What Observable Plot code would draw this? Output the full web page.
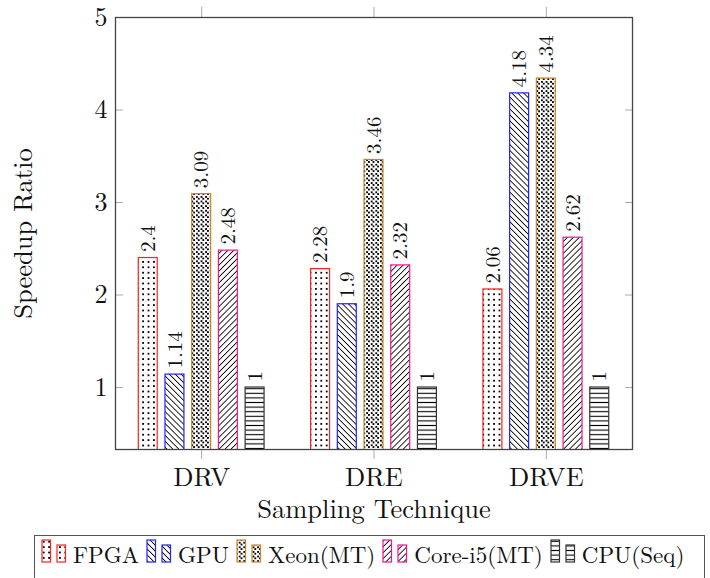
<!DOCTYPE html>
<html><head><meta charset="utf-8">
<script src="https://cdn.jsdelivr.net/npm/d3@7"></script>
<script src="https://cdn.jsdelivr.net/npm/@observablehq/plot@0.6"></script>
<style>
body{margin:0;background:#fff;color:#111;}
#wrap{position:relative;width:710px;height:578px;overflow:hidden;background:#fff;}
#chart{position:absolute;left:0;top:0;}
#legend{position:absolute;left:34px;top:535px;width:671px;height:48px;border:1.3px solid #555;box-sizing:border-box;display:flex;align-items:flex-start;padding-left:6px;font-size:23px;white-space:nowrap;}
#legend svg{margin-top:3px;flex:none;}
#legend span{display:block;line-height:25px;margin-top:5px;margin-left:6px;margin-right:7px;}
</style></head>
<body>
<div id="wrap"><div id="chart"></div><div id="legend"></div></div>
<script>
const groups = ["DRV", "DRE", "DRVE"];
const seriesNames = ["FPGA", "GPU", "Xeon(MT)", "Core-i5(MT)", "CPU(Seq)"];
const fpga   = [2.4, 2.28, 2.06];
const gpu    = [1.14, 1.9, 4.18];
const xeon   = [3.09, 3.46, 4.34];
const corei5 = [2.48, 2.32, 2.62];
const cpuSeq = [1, 1, 1];
const yTicks = [1, 2, 3, 4, 5];

const seriesValues = [fpga, gpu, xeon, corei5, cpuSeq];
const strokes = ["#ff2020", "#2020ff", "#c8842a", "#f0158c", "#333333"];
const FONT = "'Latin Modern Roman', 'Liberation Serif', serif";

const table = [];
seriesNames.forEach((s, si) => groups.forEach((g, gi) =>
  table.push({series: s, si, group: g, gi, value: seriesValues[si][gi]})));

const shift = 0.155, barW = 0.11;
const cx = d => d.gi + 1 + (d.si - 2) * shift;

const bars = seriesNames.map((s, si) => Plot.rectY(table.filter(d => d.si === si), {
  x1: d => cx(d) - barW / 2, x2: d => cx(d) + barW / 2, y: "value",
  fill: `url(#pat${si})`, stroke: strokes[si], strokeWidth: 1.2, clip: true
}));

const chart = Plot.plot({
  width: 710, height: 530,
  marginLeft: 115, marginRight: 78, marginTop: 17, marginBottom: 81,
  style: {background: "white", color: "#111", overflow: "visible"},
  x: {domain: [0.5, 3.5]},
  y: {domain: [0.33, 5]},
  marks: [
    ...bars,
    Plot.text(table, {x: cx, y: "value", text: d => String(d.value), rotate: -90, textAnchor: "start", dy: -6, fontSize: 21}),
    Plot.axisY(yTicks, {anchor: "left", tickSize: 0, tickPadding: 8, fontSize: 26, tickFormat: d => String(d), label: null}),
    Plot.axisY(yTicks, {anchor: "left", tickSize: -8, fill: "none", stroke: "#aaa", label: null}),
    Plot.axisY(yTicks, {anchor: "right", tickSize: -8, fill: "none", stroke: "#aaa", label: null}),
    Plot.axisX([1, 2, 3], {anchor: "bottom", tickSize: 10, tickPadding: 8, stroke: "#aaa", fill: "#111", tickFormat: i => groups[i - 1], fontSize: 26.5, label: null}),
    Plot.axisX([1, 2, 3], {anchor: "top", tickSize: 11, fill: "none", stroke: "#aaa", label: null}),
    Plot.frame({stroke: "#444", strokeWidth: 1.3}),
    Plot.text(["Sampling Technique"], {text: d => d, frameAnchor: "bottom", textAnchor: "middle", lineAnchor: "bottom", dy: 68, fontSize: 26.5}),
    Plot.text(["Speedup Ratio"], {text: d => d, frameAnchor: "left", textAnchor: "middle", lineAnchor: "bottom", rotate: -90, dx: -84, fontSize: 26.5})
  ]
});

chart.setAttribute("font-family", FONT);
chart.style.fontFamily = FONT;
chart.querySelectorAll("g, text").forEach(el => {
  if (el.hasAttribute("font-family")) el.setAttribute("font-family", FONT);
  el.style.fontFamily = FONT;
});

const defs = `<defs>
<pattern id="pat0" patternUnits="userSpaceOnUse" width="5.4" height="5.4"><rect x="1.7" y="1.7" width="2" height="2" fill="#000" shape-rendering="crispEdges"/></pattern>
<pattern id="pat1" patternUnits="userSpaceOnUse" width="4.2" height="10" patternTransform="rotate(-45)"><line x1="2" y1="0" x2="2" y2="10" stroke="#000" stroke-width="1" shape-rendering="crispEdges"/></pattern>
<pattern id="pat2" patternUnits="userSpaceOnUse" width="4.6" height="4.6"><rect x="0.4" y="0.4" width="1.6" height="1.6" fill="#000" shape-rendering="crispEdges"/><rect x="2.7" y="2.7" width="1.6" height="1.6" fill="#000" shape-rendering="crispEdges"/></pattern>
<pattern id="pat3" patternUnits="userSpaceOnUse" width="4.2" height="10" patternTransform="rotate(45)"><line x1="2" y1="0" x2="2" y2="10" stroke="#000" stroke-width="1" shape-rendering="crispEdges"/></pattern>
<pattern id="pat4" patternUnits="userSpaceOnUse" width="10" height="4.6"><line x1="0" y1="2.3" x2="10" y2="2.3" stroke="#000" stroke-width="1.1"/></pattern>
</defs>`;
chart.insertAdjacentHTML("afterbegin", defs);
document.getElementById("chart").appendChild(chart);

const legend = document.getElementById("legend");
legend.style.fontFamily = FONT;
seriesNames.forEach((s, si) => {
  const ns = "http://www.w3.org/2000/svg";
  const svg = document.createElementNS(ns, "svg");
  svg.setAttribute("width", 26); svg.setAttribute("height", 25);
  svg.innerHTML = `<rect x="1" y="1" width="8.5" height="22" fill="url(#pat${si})" stroke="${strokes[si]}" stroke-width="1.2"/>` +
    `<rect x="16" y="6" width="8.5" height="17" fill="url(#pat${si})" stroke="${strokes[si]}" stroke-width="1.2"/>`;
  legend.appendChild(svg);
  const span = document.createElement("span");
  span.textContent = s;
  span.style.fontFamily = FONT;
  legend.appendChild(span);
});
</script>
</body></html>
